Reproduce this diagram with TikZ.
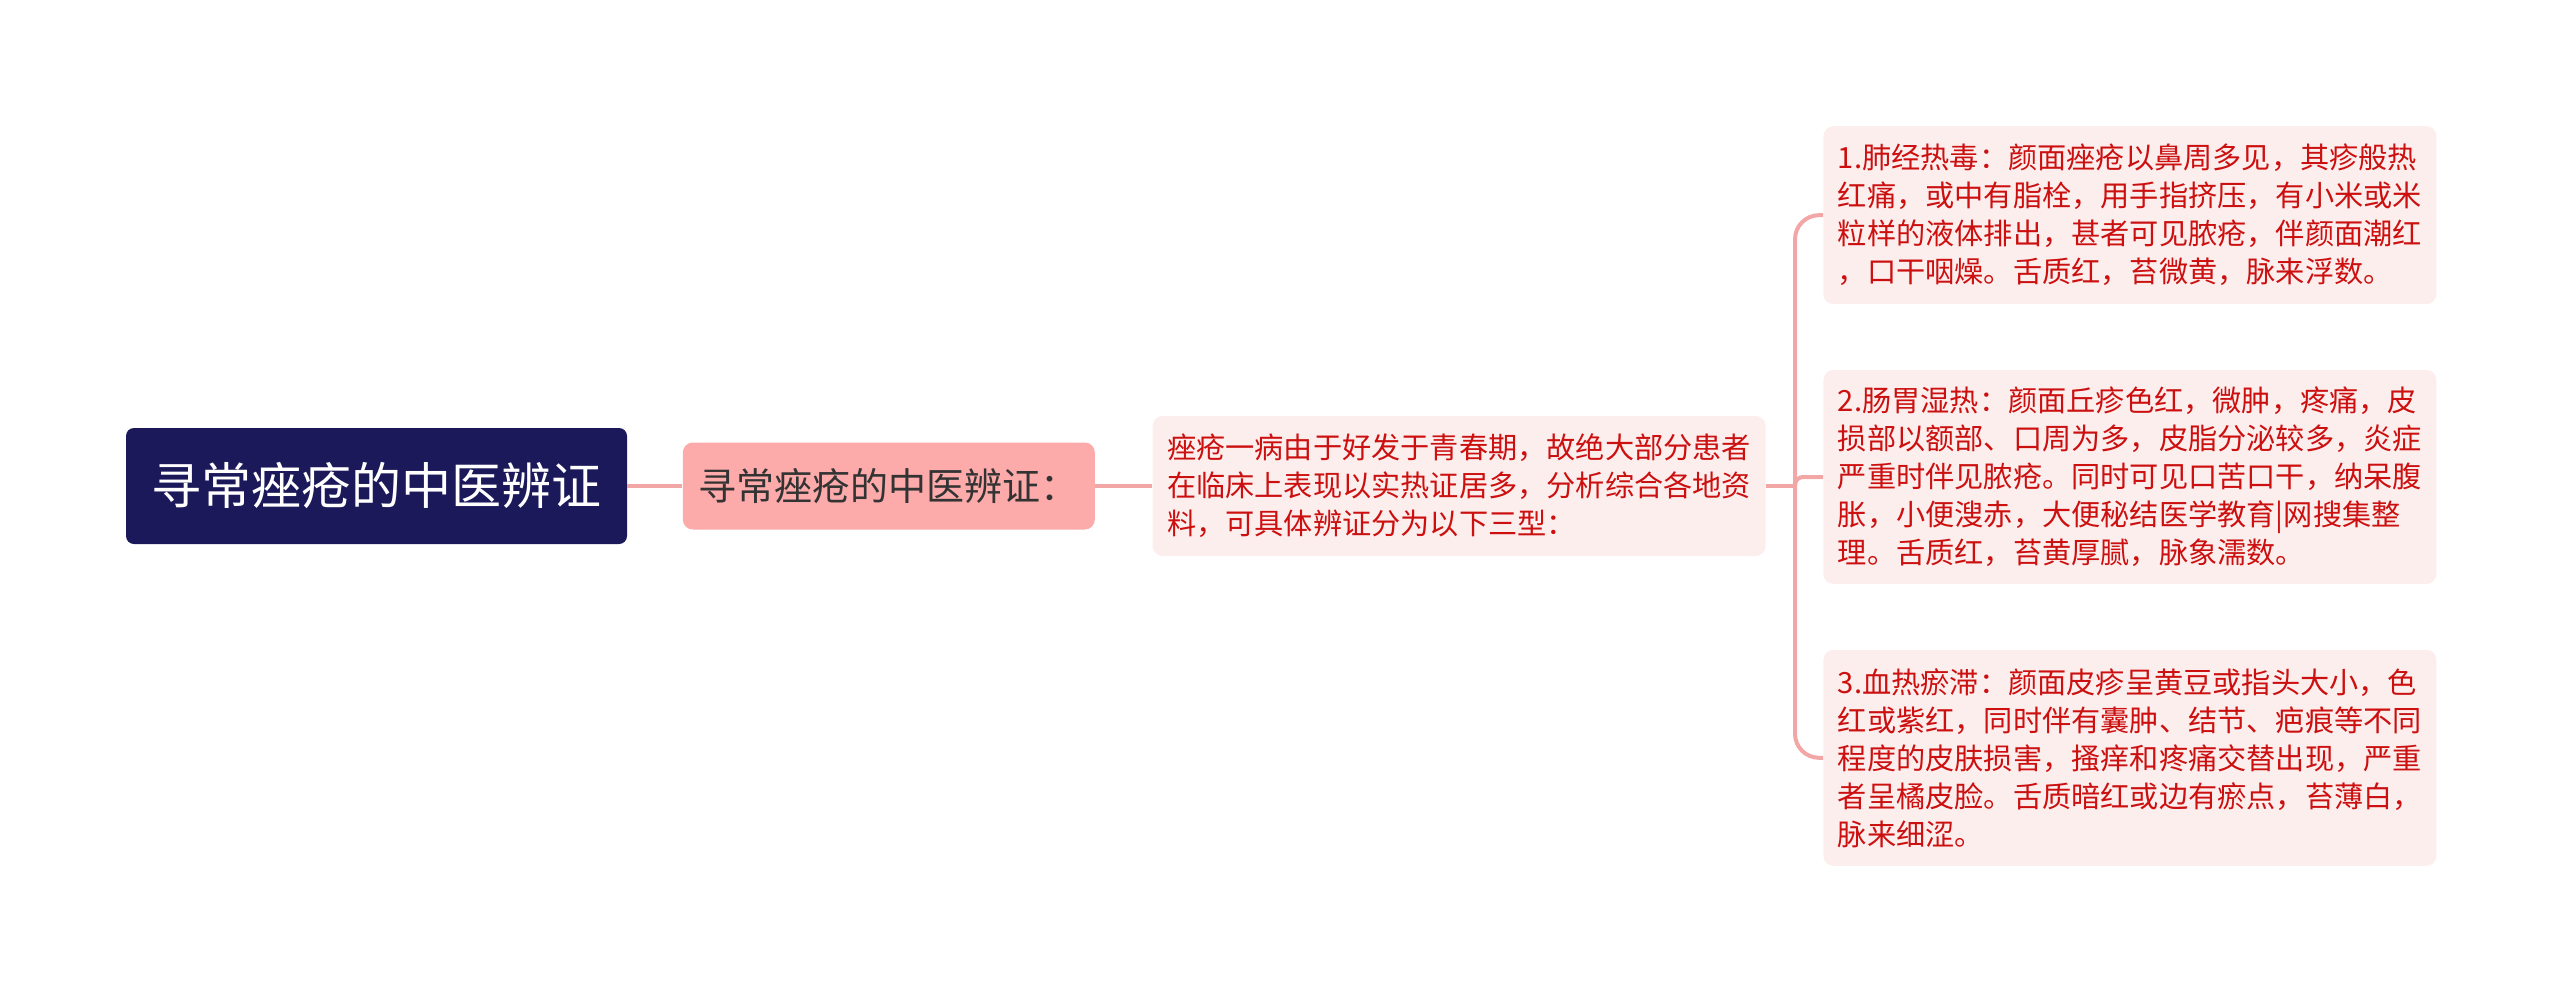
\documentclass[tikz,border=0pt]{standalone}
\usepackage{fontspec}
\newfontfamily\cjk{Noto Sans CJK SC}
\usetikzlibrary{positioning}
\definecolor{rootfill}{RGB}{27,25,90}
\definecolor{pinkfill}{RGB}{252,170,170}
\definecolor{lightfill}{RGB}{253,238,238}
\definecolor{redtext}{RGB}{204,16,16}
\definecolor{linkpink}{RGB}{243,166,166}
\definecolor{darktext}{RGB}{51,51,51}

\begin{document}
\begin{tikzpicture}[
root/.style={fill=rootfill,text=white,rounded corners=4pt,font=\cjk\fontsize{25}{30}\selectfont,
  minimum width=250.5pt,minimum height=58pt,inner sep=0pt},
topic/.style={fill=pinkfill,text=darktext,rounded corners=5pt,font=\cjk\fontsize{19}{22}\selectfont,
  minimum width=206pt,minimum height=43.5pt,inner sep=0pt},
note/.style={fill=lightfill,text=redtext,rounded corners=5pt,font=\cjk\fontsize{14.6}{19}\selectfont,
  text width=292pt,align=left,inner xsep=7.25pt,inner ysep=0pt},
link/.style={draw=linkpink,line width=2pt}
]
\useasboundingbox (0,0) rectangle (1280pt,-495.5pt);

\node[root] (root) at (188.25pt,-243pt) {寻常痤疮的中医辨证};
\node[topic, right=27.5pt of root] (l1) {寻常痤疮的中医辨证：};
\node[note, right=28.5pt of l1, minimum height=70pt] (l2) {痤疮一病由于好发于青春期，故绝大部分患者\\在临床上表现以实热证居多，分析综合各地资\\料，可具体辨证分为以下三型：};
\coordinate[right=14.5pt of l2] (hub);

\node[note, right=28.5pt of l2, yshift=4.5pt, minimum height=107pt] (c2) {2.肠胃湿热：颜面丘疹色红，微肿，疼痛，皮\\损部以额部、口周为多，皮脂分泌较多，炎症\\严重时伴见脓疮。同时可见口苦口干，纳呆腹\\胀，小便溲赤，大便秘结医学教育|网搜集整\\理。舌质红，苔黄厚腻，脉象濡数。};
\node[note, above=32.5pt of c2, minimum height=89pt] (c1) {1.肺经热毒：颜面痤疮以鼻周多见，其疹般热\\红痛，或中有脂栓，用手指挤压，有小米或米\\粒样的液体排出，甚者可见脓疮，伴颜面潮红\\，口干咽燥。舌质红，苔微黄，脉来浮数。};
\node[note, below=32.5pt of c2, minimum height=108pt] (c3) {3.血热瘀滞：颜面皮疹呈黄豆或指头大小，色\\红或紫红，同时伴有囊肿、结节、疤痕等不同\\程度的皮肤损害，搔痒和疼痛交替出现，严重\\者呈橘皮脸。舌质暗红或边有瘀点，苔薄白，\\脉来细涩。};

\draw[link] (root) -- (l1);
\draw[link] (l1) -- (l2);
\draw[link] (l2) -- (hub);
\foreach \c in {c1,c3}
	\draw[link,rounded corners=12pt] (hub) |- (\c.west);
\draw[link,rounded corners=4pt] (hub) |- (c2.west);
\end{tikzpicture}
\end{document}
